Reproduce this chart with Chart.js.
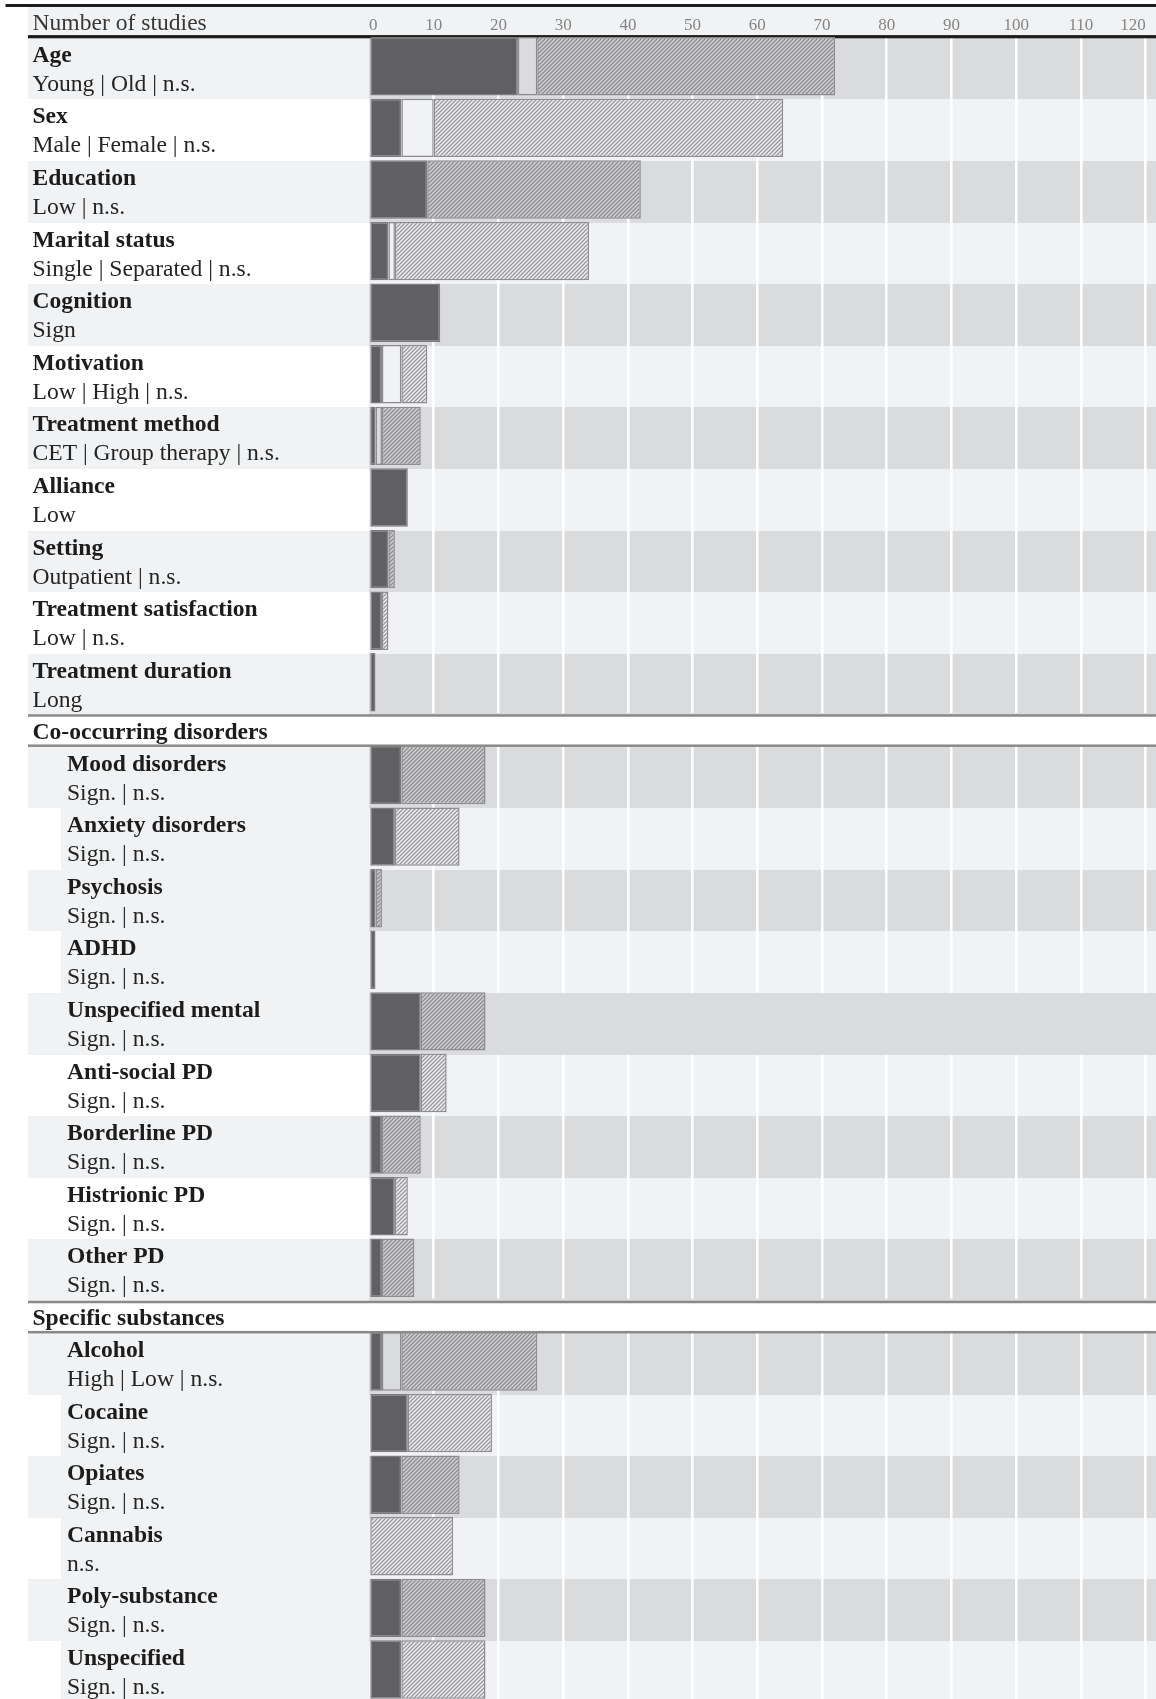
<!DOCTYPE html>
<html>
<head>
<meta charset="utf-8">
<script src="https://cdn.jsdelivr.net/npm/chart.js@4.4.1/dist/chart.umd.min.js"></script>
<style>
html,body{margin:0;padding:0;background:#fff;overflow:hidden;}
#wrap{position:relative;width:1156px;height:1699px;overflow:hidden;background:#fff;}
canvas{position:absolute;left:0;}
</style>
</head>
<body>
<div id="wrap">
<canvas id="c1" width="1156" height="716" style="top:0px"></canvas>
<canvas id="c2" width="1156" height="590" style="top:712px"></canvas>
<canvas id="c3" width="1156" height="408" style="top:1296px"></canvas>
</div>
<script>
// ---------------- data ----------------
const axisTitle = 'Number of studies';
const xTickValues = [0, 10, 20, 30, 40, 50, 60, 70, 80, 90, 100, 110, 120];
const axisMax = 121.6;

// Section 1 (no heading)
const factors1 = ['Age', 'Sex', 'Education', 'Marital status', 'Cognition', 'Motivation',
  'Treatment method', 'Alliance', 'Setting', 'Treatment satisfaction', 'Treatment duration'];
const levels1 = ['Young | Old | n.s.', 'Male | Female | n.s.', 'Low | n.s.', 'Single | Separated | n.s.',
  'Sign', 'Low | High | n.s.', 'CET | Group therapy | n.s.', 'Low', 'Outpatient | n.s.', 'Low | n.s.', 'Long'];
const first1  = [23, 5, 9, 3, 11, 2, 1, 6, 3, 2, 1];
const second1 = [3, 5, null, 1, null, 3, 1, null, null, null, null];
const ns1     = [46, 54, 33, 30, null, 4, 6, null, 1, 1, null];

// Section 2
const section2 = 'Co-occurring disorders';
const factors2 = ['Mood disorders', 'Anxiety disorders', 'Psychosis', 'ADHD', 'Unspecified mental',
  'Anti-social PD', 'Borderline PD', 'Histrionic PD', 'Other PD'];
const levels2 = ['Sign. | n.s.', 'Sign. | n.s.', 'Sign. | n.s.', 'Sign. | n.s.', 'Sign. | n.s.',
  'Sign. | n.s.', 'Sign. | n.s.', 'Sign. | n.s.', 'Sign. | n.s.'];
const first2  = [5, 4, 1, 1, 8, 8, 2, 4, 2];
const second2 = [null, null, null, null, null, null, null, null, null];
const ns2     = [13, 10, 1, null, 10, 4, 6, 2, 5];

// Section 3
const section3 = 'Specific substances';
const factors3 = ['Alcohol', 'Cocaine', 'Opiates', 'Cannabis', 'Poly-substance', 'Unspecified'];
const levels3 = ['High | Low | n.s.', 'Sign. | n.s.', 'Sign. | n.s.', 'n.s.', 'Sign. | n.s.', 'Sign. | n.s.'];
const first3  = [2, 6, 5, null, 5, 5];
const second3 = [3, null, null, null, null, null];
const ns3     = [21, 13, 9, 13, 13, 13];

// ---------------- style ----------------
const SERIF = "'Liberation Serif', 'Times New Roman', 'DejaVu Serif', serif";
const FS = 23.6;
const LIGHT = '#f1f2f4';
const DARK_ROW = '#dadbdd';
const TITLE_C = '#1c1c1c';
const SUB_C = '#242424';
const ROW_H = 61.6;
const LABEL_W = 369;
const SHIFT = 2.3;           // row band offset relative to bar band
const whiteLabelRows = ['Anti-social PD', 'Histrionic PD'];
const gridlessRows = ['Unspecified mental'];

function makeHatch(bg, fg, lw) {
  const c = document.createElement('canvas');
  c.width = 4; c.height = 4;
  const g = c.getContext('2d');
  g.fillStyle = bg; g.fillRect(0, 0, 4, 4);
  g.strokeStyle = fg; g.lineWidth = lw;
  g.beginPath();
  g.moveTo(-1, 5); g.lineTo(5, -1);
  g.moveTo(-1, 1); g.lineTo(1, -1);
  g.moveTo(3, 5); g.lineTo(5, 3);
  g.stroke();
  return g.createPattern(c, 'repeat');
}
const hatchDark = makeHatch('#d2d2d4', '#8e8e90', 1.4);
const hatchLight = makeHatch('#efeff1', '#98989a', 1.3);

function rowsPlugin(factors, levels, cfg) {
  const bands = (chart) => {
    const a = chart.chartArea, y = chart.scales.y;
    const n = factors.length;
    const bh = (a.bottom - a.top) / n;
    const out = [];
    for (let i = 0; i < n; i++) {
      const c = y.getPixelForValue(i);
      const t = Math.round(c - bh / 2 + SHIFT);
      const b = Math.round(c + bh / 2 + SHIFT);
      out.push({t, b});
    }
    return out;
  };
  return {
    id: 'rows_' + cfg.id,
    beforeDraw(chart) {
      const ctx = chart.ctx, a = chart.chartArea, W = chart.width;
      ctx.save();
      ctx.textAlign = 'left';
      ctx.textBaseline = 'alphabetic';
      if (cfg.topHeader) {
        ctx.fillStyle = LIGHT;
        ctx.fillRect(28, 7, W - 28, a.top - 7);
        ctx.fillStyle = '#1c1c1c';
        ctx.fillRect(5.5, 4, W - 5.5, 3);
        ctx.font = FS + 'px ' + SERIF;
        ctx.fillStyle = '#383838';
        ctx.fillText(cfg.topHeader, 32.5, 30);
      }
      if (cfg.section) {
        ctx.font = 'bold ' + FS + 'px ' + SERIF;
        ctx.fillStyle = TITLE_C;
        ctx.fillText(cfg.section, 32.5, a.top + SHIFT - 7.7);
      }
      const bs = bands(chart);
      bs.forEach((bd, i) => {
        const h = bd.b - bd.t;
        if (i % 2 === 0) {
          ctx.fillStyle = LIGHT; ctx.fillRect(28, bd.t, a.left - 28, h);
          ctx.fillStyle = DARK_ROW; ctx.fillRect(a.left, bd.t, W - a.left, h);
        } else {
          if (cfg.indent > 40 && !whiteLabelRows.includes(factors[i])) {
            ctx.fillStyle = LIGHT; ctx.fillRect(61, bd.t, a.left - 61, h);
          }
          ctx.fillStyle = LIGHT; ctx.fillRect(a.left, bd.t, W - a.left, h);
        }
        ctx.fillStyle = TITLE_C;
        ctx.font = 'bold ' + FS + 'px ' + SERIF;
        ctx.fillText(factors[i], cfg.indent, bd.t + 23.5);
        ctx.fillStyle = SUB_C;
        ctx.font = FS + 'px ' + SERIF;
        ctx.fillText(levels[i], cfg.indent, bd.t + 53);
      });
      ctx.restore();
    },
    beforeDatasetsDraw(chart) {
      const ctx = chart.ctx, a = chart.chartArea, W = chart.width;
      ctx.save();
      const bs = bands(chart);
      bs.forEach((bd, i) => {
        if (gridlessRows.includes(factors[i])) {
          ctx.fillStyle = DARK_ROW;
          ctx.fillRect(a.left, bd.t, W - a.left, bd.b - bd.t);
        }
      });
      if (cfg.topHeader) {
        ctx.fillStyle = '#1c1c1c';
        ctx.fillRect(28, 35.1, W - 28, 3.2);
      }
      if (cfg.section) {
        const b0 = a.top + SHIFT;
        ctx.fillStyle = '#8a8a8a';
        ctx.fillRect(28, b0 - 31 - 1.25, W - 28, 2.5);
        ctx.fillRect(28, b0 - 0.8 - 1.25, W - 28, 2.5);
      }
      ctx.restore();
    }
  };
}

function buildChart(id, factors, levels, first, second, ns, cfg) {
  const canvas = document.getElementById(id);
  const H = canvas.height;
  const padBottom = H - cfg.areaTop - factors.length * ROW_H;
  const rowBg = (c) => (c.dataIndex % 2 === 0 ? DARK_ROW : LIGHT);
  const common = {borderWidth: 1.5, borderSkipped: false, barPercentage: 0.948, categoryPercentage: 1};
  return new Chart(canvas, {
    type: 'bar',
    data: {
      labels: factors,
      datasets: [
        Object.assign({label: 'First level / Sign.', data: first, backgroundColor: '#606062', borderColor: '#7d7d80'}, common),
        Object.assign({label: 'Second level', data: second, backgroundColor: rowBg, borderColor: '#8b8b8d'}, common),
        Object.assign({label: 'n.s.', data: ns,
          backgroundColor: (c) => (c.dataIndex % 2 === 0 ? hatchDark : hatchLight), borderColor: '#8e8e90'}, common)
      ]
    },
    options: {
      indexAxis: 'y',
      responsive: false,
      animation: false,
      devicePixelRatio: 1,
      events: [],
      layout: {padding: {top: 0, left: 0, right: 0, bottom: padBottom}},
      plugins: {legend: {display: false}, tooltip: {enabled: false}},
      scales: {
        x: {
          type: 'linear', position: 'top', min: 0, max: axisMax, stacked: true,
          afterBuildTicks(s) { s.ticks = xTickValues.map(v => ({value: v})); },
          afterFit(s) { s.height = cfg.areaTop; s.paddingLeft = 0; s.paddingRight = 0; },
          border: {display: false},
          grid: {drawTicks: false, lineWidth: 2.6,
            color: (c) => (c.tick && c.tick.value === 0) ? 'rgba(0,0,0,0)' : '#ffffff'},
          ticks: {display: cfg.showTicks, align: 'inner', padding: 0, maxRotation: 0, autoSkip: false,
            color: '#858585', font: {family: SERIF, size: 17}}
        },
        y: {
          type: 'category', stacked: true, offset: true,
          afterFit(s) { s.width = LABEL_W; },
          border: {display: false}, grid: {display: false}, ticks: {display: false}
        }
      }
    },
    plugins: [rowsPlugin(factors, levels, cfg)]
  });
}

buildChart('c1', factors1, levels1, first1, second1, ns1,
  {id: 1, areaTop: 35.5, showTicks: true, topHeader: axisTitle, section: null, indent: 32.5});
buildChart('c2', factors2, levels2, first2, second2, ns2,
  {id: 2, areaTop: 32.2, showTicks: false, topHeader: null, section: section2, indent: 67});
buildChart('c3', factors3, levels3, first3, second3, ns3,
  {id: 3, areaTop: 34.7, showTicks: false, topHeader: null, section: section3, indent: 67});
</script>
</body>
</html>
